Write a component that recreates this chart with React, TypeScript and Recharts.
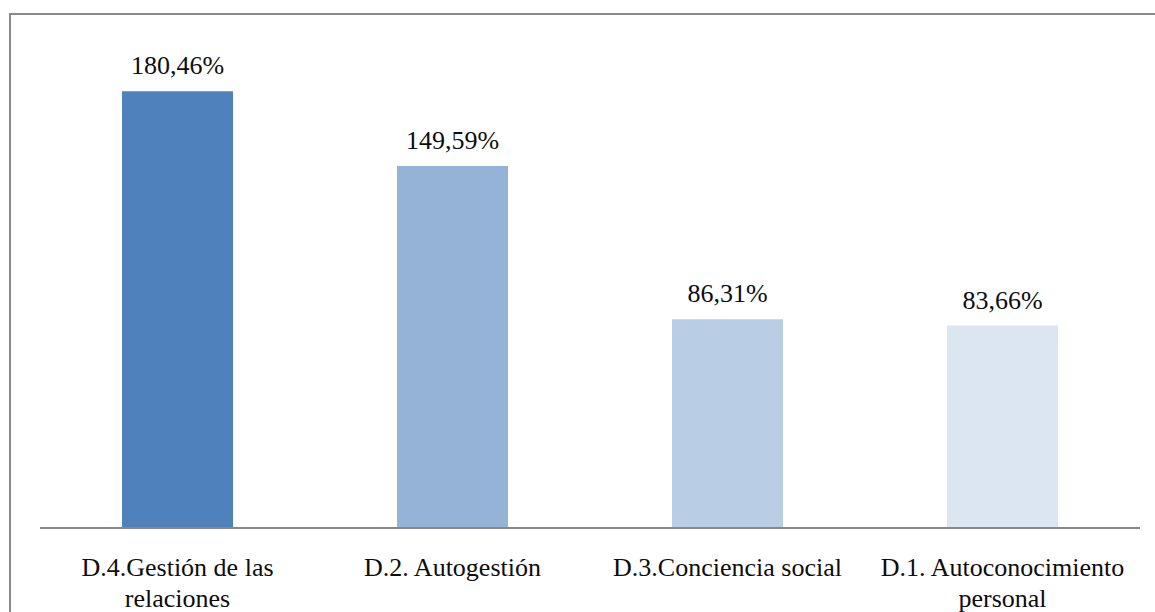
import React from 'react';
import { BarChart, Bar, XAxis, YAxis, Cell, LabelList } from 'recharts';

// Dimension names (in display order)
const categories: string[] = [
  'D.4.Gestión de las relaciones',
  'D.2. Autogestión',
  'D.3.Conciencia social',
  'D.1. Autoconocimiento personal',
];

// Tick labels broken into the lines they are drawn on
const tickLines: string[][] = [
  ['D.4.Gestión de las', 'relaciones'],
  ['D.2. Autogestión'],
  ['D.3.Conciencia social'],
  ['D.1. Autoconocimiento', 'personal'],
];

// Percentage values per dimension
const values: number[] = [180.46, 149.59, 86.31, 83.66];

// Bar fill per dimension
const barColors: string[] = ['#4F81BD', '#95B3D7', '#B9CDE5', '#DCE6F2'];

const data = categories.map((name, i) => ({ name, value: values[i] }));

const FONT =
  "'Liberation Serif', Tinos, 'Times New Roman', Times, 'Noto Serif', 'DejaVu Serif', FreeSerif, Georgia, serif";
const FONT_SIZE = 26;

const formatPct = (v: number) => v.toFixed(2).replace('.', ',') + '%';

const WrappedTick = (props: any) => {
  const { x, y, index } = props;
  const lines = tickLines[index] || [];
  return (
    <g transform={`translate(${x},${y})`}>
      <text textAnchor="middle" fontFamily={FONT} fontSize={FONT_SIZE} fill="#0d0d0d">
        {lines.map((line, i) => (
          <tspan key={i} x={0} y={40 + i * 30.5}>
            {line}
          </tspan>
        ))}
      </text>
    </g>
  );
};

const ValueLabel = (props: any) => {
  const { x, y, width, value } = props;
  return (
    <text
      x={Number(x) + Number(width) / 2}
      y={Number(y) - 17}
      textAnchor="middle"
      fontFamily={FONT}
      fontSize={FONT_SIZE}
      fill="#0d0d0d"
    >
      {formatPct(Number(value))}
    </text>
  );
};

export default function App() {
  return (
    <div
      style={{
        position: 'fixed',
        left: 0,
        top: 0,
        width: 1155,
        height: 612,
        overflow: 'hidden',
        background: '#fff',
        fontFamily: FONT,
      }}
    >
      <div
        style={{
          position: 'absolute',
          left: 9,
          top: 13,
          width: 1200,
          height: 700,
          border: '2px solid #898989',
          boxSizing: 'border-box',
        }}
      />
      <div style={{ position: 'absolute', left: 0, top: 0 }}>
        <BarChart
          width={1155}
          height={612}
          data={data}
          margin={{ top: 44, right: 15, bottom: 0, left: 40 }}
        >
          <YAxis hide domain={[0, 200]} />
          <XAxis
            dataKey="name"
            height={84}
            interval={0}
            tickLine={false}
            axisLine={{ stroke: '#888888', strokeWidth: 2 }}
            tick={<WrappedTick />}
          />
          <Bar dataKey="value" barSize={111} isAnimationActive={false}>
            {data.map((_, i) => (
              <Cell key={i} fill={barColors[i]} />
            ))}
            <LabelList dataKey="value" content={<ValueLabel />} />
          </Bar>
        </BarChart>
      </div>
    </div>
  );
}
